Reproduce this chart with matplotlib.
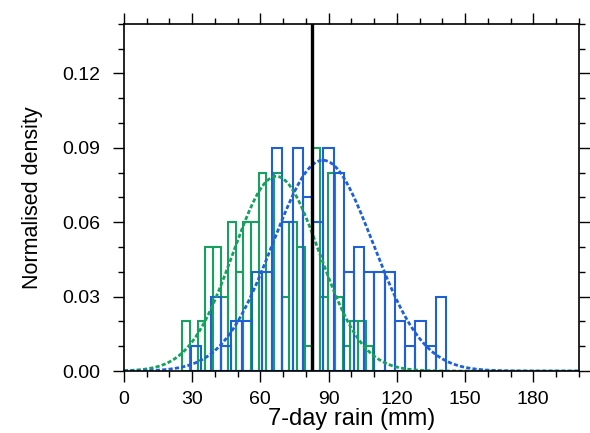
import numpy as np
import matplotlib.pyplot as plt
from matplotlib.ticker import MultipleLocator, FormatStrFormatter

plt.rcParams['font.family'] = ['Liberation Sans', 'DejaVu Sans']

# histogram 1 (green) - 25 bins between min and max
green_min, green_max = 25.7, 109.7
green_dens = [0.02, 0.01, 0.02, 0.05, 0.05, 0.03, 0.06, 0.04, 0.06, 0.06,
              0.08, 0.04, 0.08, 0.03, 0.06, 0.05, 0.01, 0.09, 0.03, 0.08,
              0.03, 0.01, 0.02, 0.02, 0.01]

# histogram 2 (blue)
blue_min, blue_max = 29.3, 141.6
blue_dens = [0.01, 0.0, 0.03, 0.01, 0.02, 0.02, 0.04, 0.04, 0.09, 0.06,
             0.09, 0.07, 0.06, 0.09, 0.08, 0.04, 0.05, 0.04, 0.04, 0.04,
             0.02, 0.01, 0.02, 0.01, 0.03]

# fitted normal curves: mean, std, peak height
green_fit = (67.0, 19.0, 0.0785)
blue_fit = (87.5, 22.0, 0.085)

threshold = 82.8

green_col = '#17a05e'
blue_col = '#1f5fd8'

fig = plt.figure(figsize=(5.9, 4.33), dpi=100)
ax = fig.add_axes([0.210, 0.143, 0.771, 0.802])

def draw_hist(lo, hi, dens, col):
    n = len(dens)
    edges = np.linspace(lo, hi, n + 1)
    w = edges[1] - edges[0]
    ax.bar(edges[:-1], dens, width=w, align='edge', fill=False,
           edgecolor=col, linewidth=1.5)

draw_hist(green_min, green_max, green_dens, green_col)
draw_hist(blue_min, blue_max, blue_dens, blue_col)

xx = np.linspace(0, 200, 400)
for (mu, sd, pk), col in [(green_fit, green_col), (blue_fit, blue_col)]:
    ax.plot(xx, pk * np.exp(-0.5 * ((xx - mu) / sd) ** 2), color=col,
            linestyle=(0, (1.5, 0.8)), linewidth=2.0)

ax.axvline(threshold, color='black', linewidth=2.4)

ax.set_xlim(0, 200)
ax.set_ylim(0, 0.14)
ax.xaxis.set_major_locator(MultipleLocator(30))
ax.xaxis.set_minor_locator(MultipleLocator(10))
ax.yaxis.set_major_locator(MultipleLocator(0.03))
ax.yaxis.set_minor_locator(MultipleLocator(0.01))
ax.yaxis.set_major_formatter(FormatStrFormatter('%.2f'))
ax.tick_params(which='both', direction='out', top=True, right=True,
               labelsize=14, width=1.0)
ax.tick_params(axis='x', pad=6)
ax.tick_params(axis='y', pad=9)
ax.tick_params(which='major', length=8)
ax.tick_params(which='minor', length=4)
for s in ax.spines.values():
    s.set_linewidth(1.2)

ax.set_xlabel('7-day rain (mm)', fontsize=17, labelpad=0)
ax.set_ylabel('Normalised density', fontsize=15.5, labelpad=14)

fig.savefig('out.png', dpi=100)
